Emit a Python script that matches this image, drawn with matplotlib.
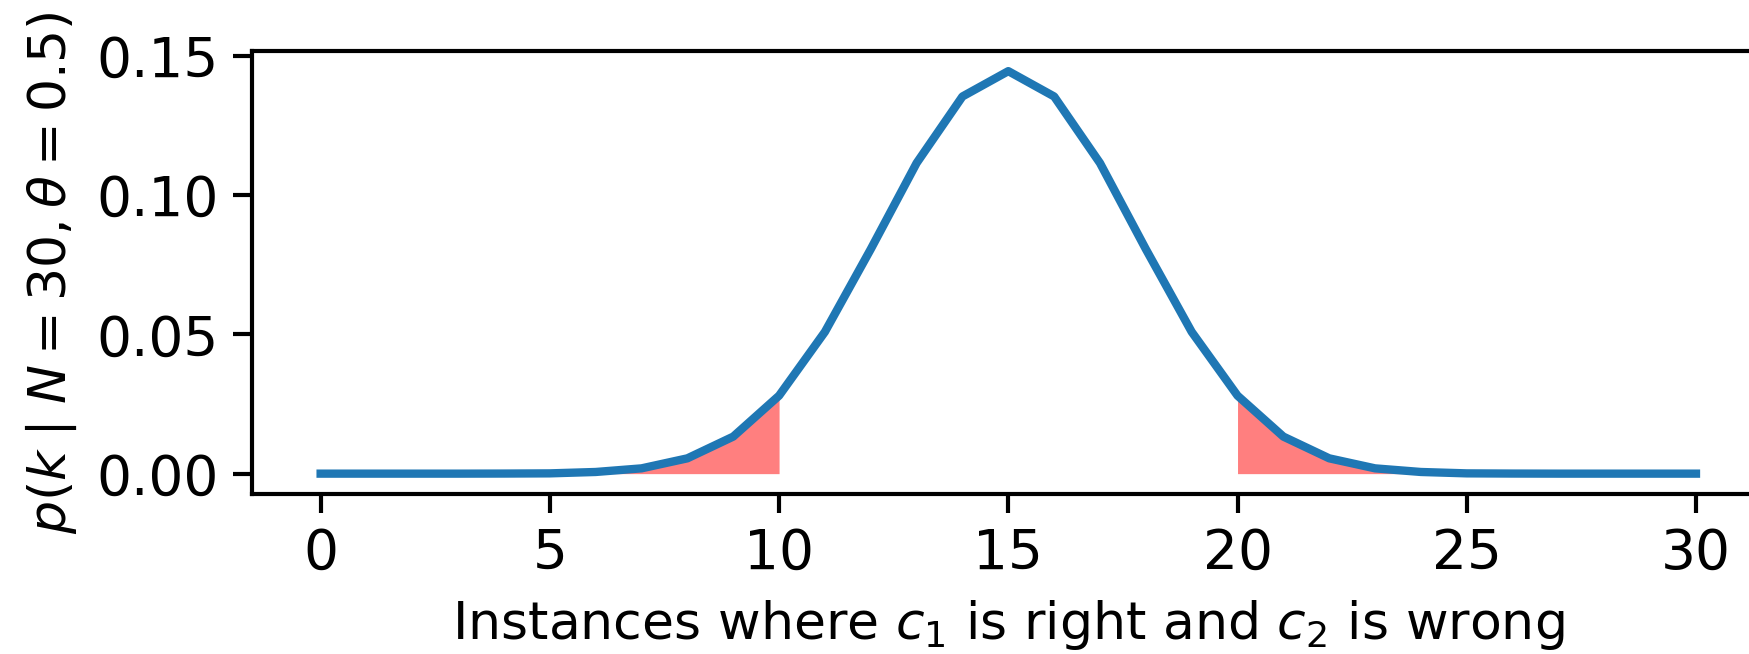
import numpy as np
import matplotlib.pyplot as plt

# binomial pmf values, k = 0..30
k = np.arange(0, 31)
pk = [0.0, 0.0, 0.0, 0.0, 0.00003, 0.0001, 0.0006, 0.0019, 0.0055, 0.0133,
      0.0280, 0.0509, 0.0806, 0.1115, 0.1354, 0.1445, 0.1354, 0.1115, 0.0806,
      0.0509, 0.0280, 0.0133, 0.0055, 0.0019, 0.0006, 0.0001, 0.00003,
      0.0, 0.0, 0.0, 0.0]
pk = np.array(pk)

left_cut = 10
right_cut = 20

fig = plt.figure(figsize=(1749 / 300, 654 / 300), dpi=300)
ax = fig.add_axes([0.144, 0.245, 0.865, 0.677])

lo = k <= left_cut
hi = k >= right_cut
ax.fill_between(k[lo], pk[lo], color='red', alpha=0.5, lw=0)
ax.fill_between(k[hi], pk[hi], color='red', alpha=0.5, lw=0)
ax.plot(k, pk, color='tab:blue', lw=2)

for s in ax.spines.values():
    s.set_linewidth(1.0)
ax.set_xticks([0, 5, 10, 15, 20, 25, 30])
ax.set_yticks([0.0, 0.05, 0.10, 0.15])
ax.tick_params(labelsize=13.2, width=1.0, length=4.5)
ax.set_xlabel('Instances where $c_1$ is right and $c_2$ is wrong', fontsize=12.5)
ax.set_ylabel(r'$p(k \mid N = 30, \theta = 0.5)$', fontsize=12.5)

fig.savefig('out.png', dpi=300)
